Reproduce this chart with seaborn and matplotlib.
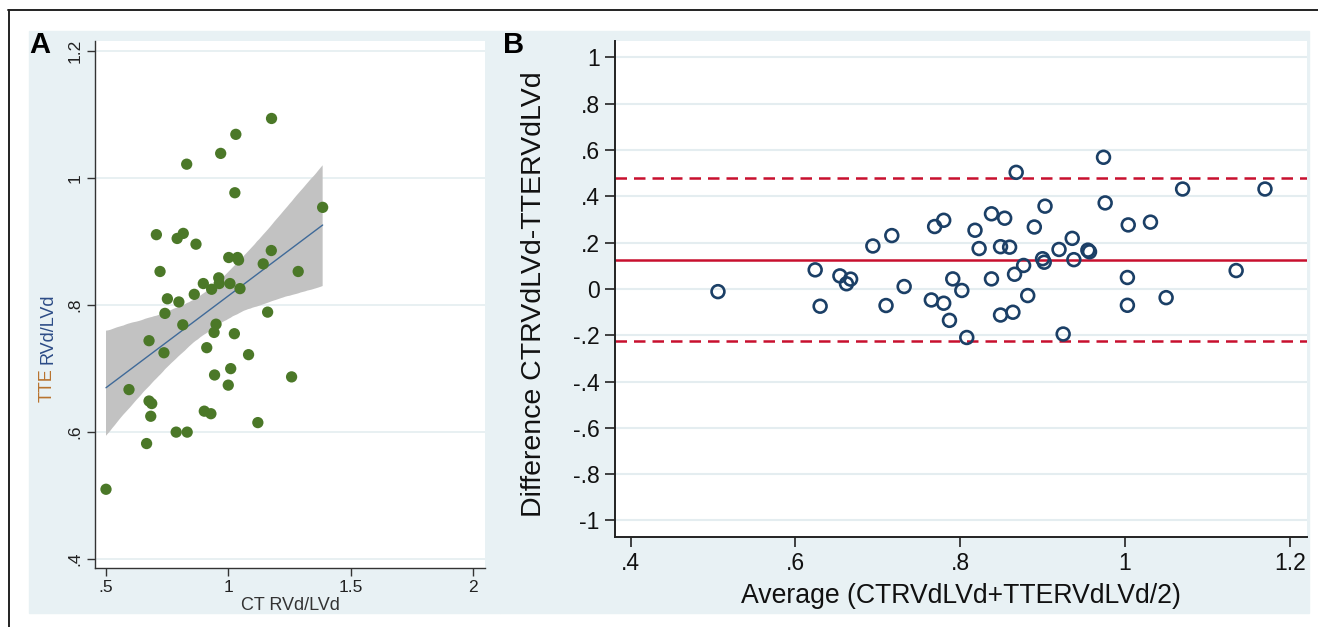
import numpy as np
import pandas as pd
import matplotlib
matplotlib.use("Agg")
import matplotlib.pyplot as plt
from matplotlib.patches import Rectangle
from matplotlib.lines import Line2D
import seaborn as sns

# ---- panel A : CT vs TTE RVd/LVd ----
ct_rv_lv = [1.177, 1.031, 0.969, 0.830, 1.027, 1.386, 0.706, 0.816, 0.791, 0.868,
            1.002, 1.038, 1.042, 1.176, 1.143, 1.286, 0.721, 0.961, 0.898, 0.963,
            0.932, 1.007, 1.048, 0.861, 0.751, 0.798, 0.741, 1.161, 0.814, 0.950,
            0.942, 1.025, 0.676, 0.737, 0.912, 1.083, 1.010, 0.944, 1.259, 1.000,
            0.594, 0.676, 0.687, 0.683, 0.902, 0.929, 1.121, 0.787, 0.832, 0.666,
            0.500]
tte_rv_lv = [1.094, 1.069, 1.039, 1.022, 0.977, 0.954, 0.911, 0.913, 0.905, 0.896,
             0.875, 0.875, 0.871, 0.886, 0.865, 0.853, 0.853, 0.843, 0.834, 0.834,
             0.825, 0.834, 0.826, 0.817, 0.810, 0.805, 0.787, 0.789, 0.769, 0.770,
             0.757, 0.755, 0.744, 0.725, 0.733, 0.722, 0.700, 0.690, 0.687, 0.674,
             0.667, 0.649, 0.645, 0.625, 0.633, 0.629, 0.615, 0.600, 0.600, 0.582,
             0.510]

# ---- panel B : Bland-Altman ----
ba_average = [0.506, 0.624, 0.630, 0.654, 0.667, 0.662, 0.694, 0.717, 0.710, 0.732,
              0.769, 0.780, 0.765, 0.780, 0.791, 0.802, 0.787, 0.808, 0.818, 0.823,
              0.838, 0.854, 0.849, 0.860, 0.838, 0.849, 0.864, 0.868, 0.866, 0.877,
              0.882, 0.890, 0.903, 0.900, 0.902, 0.920, 0.936, 0.938, 0.955, 0.957,
              0.925, 0.974, 0.976, 1.004, 1.031, 1.003, 1.003, 1.050, 1.070, 1.135,
              1.170]
ba_difference = [-0.012, 0.082, -0.075, 0.056, 0.042, 0.022, 0.185, 0.230, -0.072, 0.010,
                 0.269, 0.296, -0.048, -0.062, 0.043, -0.007, -0.136, -0.210, 0.253, 0.174,
                 0.324, 0.305, 0.182, 0.180, 0.043, -0.113, -0.101, 0.503, 0.063, 0.101,
                 -0.029, 0.267, 0.357, 0.130, 0.115, 0.170, 0.218, 0.126, 0.167, 0.160,
                 -0.195, 0.568, 0.371, 0.276, 0.288, 0.049, -0.071, -0.038, 0.431, 0.079,
                 0.431]

a_xticks = [0.5, 1.0, 1.5, 2.0]
a_xticklabels = ['.5', '1', '1.5', '2']
a_yticks = [0.4, 0.6, 0.8, 1.0, 1.2]
a_yticklabels = ['.4', '.6', '.8', '1', '1.2']
b_xticks = [0.4, 0.6, 0.8, 1.0, 1.2]
b_xticklabels = ['.4', '.6', '.8', '1', '1.2']
b_yticks = [-1.0, -0.8, -0.6, -0.4, -0.2, 0.0, 0.2, 0.4, 0.6, 0.8, 1.0]
b_yticklabels = ['-1', '-.8', '-.6', '-.4', '-.2', '0', '.2', '.4', '.6', '.8', '1']

df_a = pd.DataFrame({'ct': ct_rv_lv, 'tte': tte_rv_lv})
df_b = pd.DataFrame({'avg': ba_average, 'diff': ba_difference})

sns.set_theme(style='white')
plt.rcParams['font.family'] = ['Liberation Sans', 'DejaVu Sans']

W, H = 1318, 627
BG = '#e8f1f4'
GRID = '#e4edf0'
GREEN = '#4b7828'
NAVY = '#1b3f66'
RED = '#c8102e'

fig = plt.figure(figsize=(W / 100, H / 100), dpi=100, facecolor='white')

# panel backgrounds + outer frame
fig.patches.append(Rectangle((29 / W, 1 - 613 / H), 471 / W, 582 / H,
                             transform=fig.transFigure, color=BG, zorder=-2))
fig.patches.append(Rectangle((500 / W, 1 - 613 / H), 809 / W, 582 / H,
                             transform=fig.transFigure, color=BG, zorder=-2))
fig.lines.append(Line2D([8 / W, 1], [1 - 10 / H, 1 - 10 / H], transform=fig.transFigure,
                        color='#222222', lw=1.4))
fig.lines.append(Line2D([9 / W, 9 / W], [1 - 10 / H, 0], transform=fig.transFigure,
                        color='#222222', lw=1.4))

# ---------------- panel A ----------------
ax1 = fig.add_axes([95 / W, 1 - 568 / H, 390 / W, 527 / H])
ax1.set_facecolor('white')
sns.regplot(data=df_a, x='ct', y='tte', ax=ax1, scatter=False, ci=95, n_boot=2000, seed=3,
            color='#3f6a99', line_kws={'lw': 1.0, 'zorder': 2})
for coll in ax1.collections:
    coll.set_facecolor('#c2c2c2')
    coll.set_alpha(1)
    coll.set_edgecolor('none')
    coll.set_zorder(1)
sns.scatterplot(data=df_a, x='ct', y='tte', ax=ax1, color=GREEN, s=66,
                edgecolor='none', zorder=3)
ax1.set_xlim(0.455, 2.05)
ax1.set_ylim(0.386, 1.216)
ax1.set_xticks(a_xticks)
ax1.set_xticklabels(a_xticklabels)
ax1.set_yticks(a_yticks)
ax1.set_yticklabels(a_yticklabels, rotation=90, va='center')
ax1.yaxis.grid(True, color=GRID, lw=1.2)
ax1.set_axisbelow(True)
for s in ['top', 'right']:
    ax1.spines[s].set_visible(False)
for s in ['left', 'bottom']:
    ax1.spines[s].set_color('#333333')
    ax1.spines[s].set_linewidth(1.0)
ax1.tick_params(direction='out', length=6, width=1.0, color='#333333',
                labelsize=12.5, labelcolor='#222222', pad=3, left=True, bottom=True)
ax1.set_xlabel('CT RVd/LVd', fontsize=13, color='#333333')
ax1.xaxis.set_label_coords(0.5, -0.055)
ax1.set_ylabel('')

# two coloured y label
t1 = fig.text(52 / W, 1 - 402 / H, 'TTE', rotation=90, rotation_mode='anchor',
              ha='left', va='baseline', fontsize=13, color='#b8732e')
fig.canvas.draw()
bb = t1.get_window_extent()
fig.text(52 / W, (bb.y1 + 4) / H, 'RVd/LVd', rotation=90, rotation_mode='anchor',
         ha='left', va='baseline', fontsize=13, color='#2c4c86')

# ---------------- panel B ----------------
ax2 = fig.add_axes([615 / W, 1 - 536.7 / H, 692 / W, 495.7 / H])
ax2.set_facecolor('white')
mean_diff = np.mean(ba_difference)
sd_diff = np.std(ba_difference, ddof=1)
ax2.axhline(mean_diff, color=RED, lw=1.8, zorder=2)
ax2.axhline(mean_diff + 1.96 * sd_diff, color=RED, lw=1.8, dashes=(4.6, 2.8), zorder=2)
ax2.axhline(mean_diff - 1.96 * sd_diff, color=RED, lw=1.8, dashes=(4.6, 2.8), zorder=2)
sns.scatterplot(data=df_b, x='avg', y='diff', ax=ax2, color=NAVY, s=85,
                edgecolor=NAVY, linewidth=1.9, zorder=3)
ax2.collections[-1].set_facecolor('none')
ax2.set_xlim(0.381, 1.221)
ax2.set_ylim(-1.07, 1.07)
ax2.set_xticks(b_xticks)
ax2.set_xticklabels(b_xticklabels)
ax2.set_yticks(b_yticks)
ax2.set_yticklabels(b_yticklabels)
ax2.yaxis.grid(True, color=GRID, lw=1.5)
ax2.set_axisbelow(True)
for s in ['top', 'right']:
    ax2.spines[s].set_visible(False)
for s in ['left', 'bottom']:
    ax2.spines[s].set_color('#222222')
    ax2.spines[s].set_linewidth(1.4)
ax2.tick_params(direction='out', length=7, width=1.2, color='#222222',
                labelsize=16.5, labelcolor='#111111', pad=4, left=True, bottom=True)
ax2.set_xlabel('Average (CTRVdLVd+TTERVdLVd/2)', fontsize=19.2, color='#111111')
ax2.xaxis.set_label_coords(0.5, -0.093)
ax2.set_ylabel('Difference CTRVdLVd-TTERVdLVd', fontsize=20.5, color='#111111')
ax2.yaxis.set_label_coords(-0.098, 0.49)

# panel letters
fig.text(29 / W, 1 - 53 / H, 'A', fontsize=21, fontweight='bold', color='black', va='baseline')
fig.text(503 / W, 1 - 53 / H, 'B', fontsize=21, fontweight='bold', color='black', va='baseline')

fig.savefig('out.png', dpi=100, facecolor='white')
